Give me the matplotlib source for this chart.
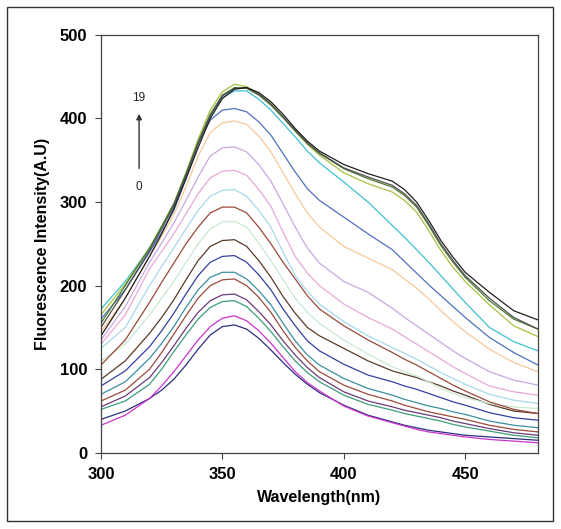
import matplotlib
matplotlib.use('Agg')
import matplotlib.pyplot as plt
from matplotlib.patches import Rectangle

plt.rcParams['font.family'] = ['Liberation Sans', 'DejaVu Sans']

wavelength = [300, 310, 320, 325, 330, 335, 340, 345, 350, 355, 360, 365, 370, 375,
              380, 385, 390, 400, 410, 420, 425, 430, 435, 440, 445, 450, 460, 470, 480]

# fluorescence intensity of each titration step (0 .. 19)
s0 = [40, 50, 65, 75, 88, 105, 124, 141, 151, 153, 148, 137, 123, 108, 94, 82, 72, 57, 45, 37, 33, 30, 27, 25, 23, 21, 19, 17, 15]
s1 = [33, 45, 65, 80, 97, 116, 135, 151, 161, 164, 158, 146, 131, 114, 97, 84, 74, 56, 44, 36, 32, 28, 25, 23, 21, 19, 16, 14, 12]
s2 = [52, 62, 82, 100, 121, 141, 160, 174, 181, 182, 175, 161, 145, 127, 110, 96, 85, 69, 58, 51, 47, 44, 41, 38, 34, 31, 26, 21, 18]
s3 = [55, 68, 90, 108, 128, 149, 168, 182, 189, 190, 183, 169, 153, 134, 117, 102, 90, 73, 62, 55, 51, 48, 45, 42, 38, 35, 29, 24, 21]
s4 = [62, 75, 100, 120, 142, 164, 185, 200, 207, 208, 200, 186, 168, 146, 126, 110, 97, 81, 70, 62, 57, 53, 49, 46, 43, 40, 33, 28, 25]
s5 = [70, 85, 113, 131, 151, 174, 195, 210, 216, 216, 208, 194, 177, 155, 134, 117, 105, 89, 77, 69, 64, 60, 56, 53, 49, 46, 38, 33, 30]
s6 = [80, 98, 127, 146, 167, 190, 212, 228, 235, 236, 228, 213, 195, 172, 152, 134, 122, 106, 93, 85, 80, 76, 71, 66, 61, 57, 48, 42, 39]
s7 = [88, 110, 143, 162, 183, 207, 230, 247, 254, 255, 247, 230, 210, 187, 167, 150, 140, 125, 110, 98, 94, 90, 85, 80, 74, 69, 58, 50, 47]
s8 = [110, 130, 165, 185, 205, 228, 250, 268, 276, 277, 270, 251, 230, 207, 185, 168, 155, 135, 118, 103, 97, 92, 85, 77, 71, 66, 59, 55, 53]
s9 = [105, 135, 180, 204, 227, 250, 270, 287, 294, 294, 287, 270, 250, 228, 208, 188, 172, 152, 135, 120, 112, 105, 97, 89, 81, 74, 61, 52, 47]
s10 = [125, 150, 200, 223, 245, 268, 290, 307, 314, 315, 307, 290, 270, 240, 212, 193, 178, 157, 140, 126, 119, 112, 104, 96, 89, 82, 70, 63, 59]
s11 = [130, 165, 220, 241, 262, 286, 310, 329, 337, 338, 332, 315, 295, 264, 235, 215, 200, 178, 162, 148, 139, 130, 121, 112, 103, 95, 80, 73, 69]
s12 = [135, 175, 228, 251, 275, 302, 330, 355, 365, 366, 360, 345, 325, 298, 270, 245, 227, 205, 192, 173, 162, 152, 142, 132, 122, 113, 97, 87, 81]
s13 = [145, 185, 235, 259, 285, 318, 355, 383, 395, 397, 393, 379, 360, 335, 310, 287, 270, 247, 233, 219, 208, 197, 184, 170, 157, 145, 124, 108, 97]
s14 = [160, 195, 240, 264, 290, 328, 370, 398, 410, 412, 408, 396, 380, 358, 336, 316, 302, 282, 262, 243, 229, 215, 201, 188, 175, 162, 138, 120, 105]
s15 = [172, 205, 245, 269, 295, 330, 370, 405, 425, 433, 433, 423, 410, 394, 378, 361, 347, 324, 300, 272, 258, 243, 228, 212, 196, 180, 150, 133, 122]
s16 = [165, 202, 245, 271, 298, 335, 375, 410, 432, 441, 438, 430, 418, 402, 385, 369, 356, 335, 322, 312, 302, 288, 266, 242, 222, 205, 177, 152, 139]
s17 = [155, 200, 245, 271, 298, 334, 372, 405, 428, 437, 436, 428, 416, 401, 385, 370, 358, 340, 328, 318, 308, 294, 272, 248, 228, 210, 182, 160, 148]
s18 = [150, 195, 242, 268, 296, 332, 370, 403, 427, 436, 437, 429, 417, 402, 386, 371, 359, 341, 330, 320, 310, 296, 274, 250, 230, 212, 185, 162, 148]
s19 = [140, 185, 235, 262, 292, 328, 365, 400, 424, 435, 437, 431, 420, 405, 388, 373, 361, 345, 334, 325, 315, 300, 278, 254, 234, 216, 192, 170, 159]

series = [s0, s1, s2, s3, s4, s5, s6, s7, s8, s9,
          s10, s11, s12, s13, s14, s15, s16, s17, s18, s19]
colors = ['#2B2F7F', '#CC33CC', '#3C9E7A', '#6B3A7A', '#9C4A3A',
          '#3A8FA0', '#3340A0', '#5A3A2A', '#C8EAD0', '#9A4A3A',
          '#A8D8EA', '#E8A8D8', '#C8A8E0', '#F8C89A', '#5070C0',
          '#40C0D0', '#A8C040', '#4A7A30', '#505050', '#202020']

fig = plt.figure(figsize=(5.61, 5.29), dpi=100)
ax = fig.add_axes([0.180, 0.144, 0.779, 0.790])

for ys, c in zip(series, colors):
    ax.plot(wavelength, ys, color=c, lw=0.9)

ax.set_xlim(300, 480)
ax.set_ylim(0, 500)
ax.set_xticks([300, 350, 400, 450])
ax.set_yticks([0, 100, 200, 300, 400, 500])
ax.tick_params(direction='out', length=4, width=0.8, color='#444444',
               labelsize=12, pad=6)
for lab in ax.get_xticklabels() + ax.get_yticklabels():
    lab.set_fontweight('bold')
for sp in ax.spines.values():
    sp.set_color('#444444')
    sp.set_linewidth(0.9)

ax.set_xlabel('Wavelength(nm)', fontsize=11.5, fontweight='bold', labelpad=6)
ax.set_ylabel('Fluorescence Intensity(A.U)', fontsize=11.5, fontweight='bold', labelpad=7)

# arrow showing the order of the spectra
ax.annotate('', xy=(315.7, 409), xytext=(315.7, 337),
            arrowprops=dict(arrowstyle='-|>', color='#333333', lw=1.0,
                            mutation_scale=8))
ax.text(315.7, 424, '19', ha='center', va='center', fontsize=8.5, color='#222222')
ax.text(315.7, 318, '0', ha='center', va='center', fontsize=8.5, color='#222222')

# outer frame of the chart area
fig.patches.append(Rectangle((7 / 561, 8 / 529), 546 / 561, 514 / 529,
                             transform=fig.transFigure, fill=False,
                             edgecolor='#333333', lw=1.0))

fig.savefig('out.png', dpi=100)
